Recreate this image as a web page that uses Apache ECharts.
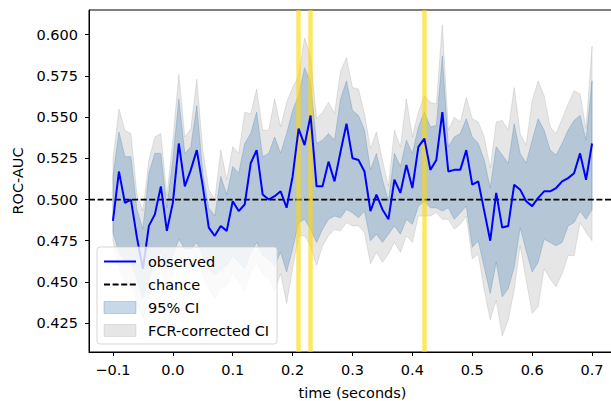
<!DOCTYPE html>
<html>
<head>
<meta charset="utf-8">
<script src="https://cdn.jsdelivr.net/npm/echarts@6/dist/echarts.min.js"></script>
<style>
  html, body { margin: 0; padding: 0; background: #fff; }
  #chart { width: 611px; height: 401px; }
</style>
</head>
<body>
<div id="chart"></div>
<script>
// time points (seconds)
const times = [
  -0.10, -0.09, -0.08, -0.07, -0.06, -0.05, -0.04, -0.03, -0.02, -0.01,
  0.00, 0.01, 0.02, 0.03, 0.04, 0.05, 0.06, 0.07, 0.08, 0.09,
  0.10, 0.11, 0.12, 0.13, 0.14, 0.15, 0.16, 0.17, 0.18, 0.19,
  0.20, 0.21, 0.22, 0.23, 0.24, 0.25, 0.26, 0.27, 0.28, 0.29,
  0.30, 0.31, 0.32, 0.33, 0.34, 0.35, 0.36, 0.37, 0.38, 0.39,
  0.40, 0.41, 0.42, 0.43, 0.44, 0.45, 0.46, 0.47, 0.48, 0.49,
  0.50, 0.51, 0.52, 0.53, 0.54, 0.55, 0.56, 0.57, 0.58, 0.59,
  0.60, 0.61, 0.62, 0.63, 0.64, 0.65, 0.66, 0.67, 0.68, 0.69,
  0.70
];

// observed ROC-AUC
const observed = [
  0.487, 0.517, 0.498, 0.500, 0.477, 0.458, 0.484, 0.491, 0.508, 0.481,
  0.498, 0.534, 0.508, 0.518, 0.530, 0.508, 0.483, 0.478, 0.484, 0.481,
  0.499, 0.493, 0.497, 0.522, 0.530, 0.503, 0.500, 0.502, 0.505, 0.495,
  0.514, 0.543, 0.533, 0.551, 0.508, 0.508, 0.523, 0.511, 0.529, 0.546,
  0.525, 0.524, 0.517, 0.493, 0.503, 0.494, 0.488, 0.512, 0.504, 0.521,
  0.507, 0.532, 0.537, 0.518, 0.524, 0.553, 0.517, 0.518, 0.518, 0.530,
  0.509, 0.511, 0.493, 0.475, 0.504, 0.483, 0.484, 0.509, 0.506, 0.499,
  0.496, 0.501, 0.505, 0.505, 0.507, 0.511, 0.513, 0.516, 0.528, 0.512,
  0.534
];

// 95% CI
const ci95Upper = [
  0.514, 0.541, 0.526, 0.526, 0.494, 0.482, 0.516, 0.528, 0.528, 0.495,
  0.524, 0.561, 0.528, 0.532, 0.557, 0.516, 0.495, 0.490, 0.514, 0.503,
  0.520, 0.516, 0.534, 0.540, 0.553, 0.526, 0.528, 0.538, 0.528, 0.540,
  0.554, 0.563, 0.580, 0.571, 0.534, 0.536, 0.540, 0.536, 0.561, 0.572,
  0.554, 0.551, 0.542, 0.518, 0.528, 0.512, 0.499, 0.528, 0.520, 0.536,
  0.528, 0.544, 0.553, 0.544, 0.545, 0.587, 0.532, 0.538, 0.540, 0.549,
  0.538, 0.534, 0.524, 0.507, 0.532, 0.527, 0.522, 0.546, 0.528, 0.522,
  0.536, 0.549, 0.542, 0.530, 0.527, 0.534, 0.542, 0.548, 0.551, 0.536,
  0.572
];
const ci95Lower = [
  0.480, 0.468, 0.463, 0.462, 0.452, 0.440, 0.452, 0.462, 0.468, 0.458,
  0.466, 0.476, 0.470, 0.470, 0.474, 0.466, 0.458, 0.454, 0.458, 0.460,
  0.466, 0.462, 0.458, 0.468, 0.474, 0.466, 0.464, 0.460, 0.468, 0.456,
  0.470, 0.486, 0.488, 0.482, 0.474, 0.482, 0.488, 0.490, 0.489, 0.494,
  0.492, 0.489, 0.493, 0.475, 0.479, 0.474, 0.479, 0.484, 0.479, 0.488,
  0.485, 0.496, 0.499, 0.495, 0.495, 0.493, 0.495, 0.488, 0.492, 0.496,
  0.471, 0.475, 0.459, 0.443, 0.462, 0.441, 0.446, 0.459, 0.483, 0.469,
  0.456, 0.462, 0.476, 0.474, 0.472, 0.474, 0.484, 0.486, 0.493, 0.488,
  0.494
];

// FCR-corrected CI
const fcrUpper = [
  0.524, 0.555, 0.542, 0.540, 0.503, 0.493, 0.524, 0.538, 0.540, 0.502,
  0.536, 0.576, 0.538, 0.543, 0.573, 0.530, 0.506, 0.500, 0.530, 0.512,
  0.532, 0.528, 0.553, 0.552, 0.567, 0.542, 0.542, 0.561, 0.544, 0.559,
  0.568, 0.575, 0.598, 0.587, 0.549, 0.553, 0.559, 0.552, 0.578, 0.586,
  0.568, 0.567, 0.552, 0.531, 0.541, 0.524, 0.508, 0.542, 0.532, 0.561,
  0.538, 0.553, 0.563, 0.559, 0.558, 0.606, 0.542, 0.550, 0.547, 0.562,
  0.549, 0.547, 0.538, 0.519, 0.547, 0.548, 0.542, 0.568, 0.540, 0.533,
  0.560, 0.572, 0.563, 0.544, 0.540, 0.549, 0.558, 0.566, 0.564, 0.543,
  0.593
];
const fcrLower = [
  0.475, 0.458, 0.450, 0.448, 0.438, 0.428, 0.440, 0.450, 0.458, 0.445,
  0.455, 0.468, 0.460, 0.460, 0.466, 0.455, 0.446, 0.440, 0.446, 0.448,
  0.455, 0.450, 0.444, 0.456, 0.462, 0.455, 0.452, 0.445, 0.455, 0.437,
  0.458, 0.478, 0.478, 0.472, 0.460, 0.472, 0.478, 0.482, 0.481, 0.486,
  0.484, 0.484, 0.480, 0.461, 0.468, 0.462, 0.467, 0.474, 0.468, 0.478,
  0.474, 0.490, 0.490, 0.490, 0.492, 0.488, 0.488, 0.482, 0.485, 0.490,
  0.464, 0.467, 0.445, 0.427, 0.439, 0.417, 0.427, 0.445, 0.472, 0.451,
  0.431, 0.435, 0.458, 0.452, 0.447, 0.455, 0.466, 0.466, 0.486, 0.480,
  0.475
];

// significant time points (yellow markers)
const sigTimes = [0.21, 0.23, 0.42];

const chanceLevel = 0.5;
const xTicks = [-0.1, 0.0, 0.1, 0.2, 0.3, 0.4, 0.5, 0.6, 0.7];
const yTicks = [0.425, 0.450, 0.475, 0.500, 0.525, 0.550, 0.575, 0.600];
const X_MIN = -0.14, X_MAX = 0.74;
const Y_MIN = 0.4075, Y_MAX = 0.615;

const FONT = "DejaVu Sans";
const BLUE_FILL = "rgba(70, 130, 180, 0.3)";
const GRAY_FILL = "rgba(128, 128, 128, 0.2)";
const NO_SYMBOL = { color: "rgba(0, 0, 0, 0)", borderColor: "rgba(0, 0, 0, 0)", borderWidth: 0 };

// polygon between lower and upper bound, drawn through the axes
function bandSeries(name, lower, upper, color, z) {
  return {
    name,
    type: "custom",
    z,
    silent: true,
    data: [[times[0], lower[0]]],
    itemStyle: { color },
    renderItem: (params, api) => {
      const pts = times.map((t, i) => api.coord([t, upper[i]]));
      for (let i = times.length - 1; i >= 0; i--) {
        pts.push(api.coord([times[i], lower[i]]));
      }
      return {
        type: "polygon",
        shape: { points: pts },
        style: { fill: color, stroke: color, lineWidth: 1 },
      };
    },
  };
}

const chart = echarts.init(document.getElementById("chart"), null, { renderer: "svg" });

const option = {
  animation: false,
  backgroundColor: "#ffffff",
  grid: {
    left: 89,
    top: 10,
    width: 527,
    height: 342,
    outerBoundsMode: "none",
    containLabel: false,
    show: true,
    borderColor: "#000",
    borderWidth: 1,
    backgroundColor: "transparent",
  },
  legend: {
    orient: "vertical",
    left: 97,
    top: 247,
    z: 20,
    padding: [7, 8, 6, 6],
    itemGap: 8,
    itemWidth: 32,
    itemHeight: 12,
    backgroundColor: "rgba(255, 255, 255, 0.8)",
    borderColor: "rgba(204, 204, 204, 0.8)",
    borderWidth: 1,
    borderRadius: 3,
    selectedMode: false,
    textStyle: {
      fontFamily: FONT,
      fontSize: 14.5,
      color: "#000",
      padding: [0, 0, 0, 7],
    },
    data: [
      { name: "observed", itemStyle: NO_SYMBOL },
      { name: "chance", itemStyle: NO_SYMBOL },
      { name: "95% CI", icon: "rect", itemStyle: { color: BLUE_FILL, borderColor: BLUE_FILL, borderWidth: 1 } },
      { name: "FCR-corrected CI", icon: "rect", itemStyle: { color: GRAY_FILL, borderColor: GRAY_FILL, borderWidth: 1 } },
    ],
  },
  xAxis: {
    type: "value",
    min: X_MIN,
    max: X_MAX,
    name: "time (seconds)",
    nameLocation: "middle",
    nameGap: 33,
    nameTextStyle: { fontFamily: FONT, fontSize: 14.5, color: "#000" },
    axisLine: { show: true, onZero: false, lineStyle: { color: "#000", width: 1 } },
    axisTick: {
      show: true,
      inside: false,
      length: 4,
      customValues: xTicks,
      lineStyle: { color: "#000", width: 1 },
    },
    axisLabel: {
      customValues: xTicks,
      margin: 10,
      fontFamily: FONT,
      fontSize: 14.5,
      color: "#000",
      formatter: (v) => (v < 0 ? "\u2212" + Math.abs(v).toFixed(1) : v.toFixed(1)),
    },
    splitLine: { show: false },
  },
  yAxis: {
    type: "value",
    min: Y_MIN,
    max: Y_MAX,
    name: "ROC-AUC",
    nameLocation: "middle",
    nameGap: 54,
    nameTextStyle: { fontFamily: FONT, fontSize: 14.5, color: "#000" },
    axisLine: { show: true, onZero: false, lineStyle: { color: "#000", width: 1 } },
    axisTick: {
      show: true,
      inside: false,
      length: 4,
      customValues: yTicks,
      lineStyle: { color: "#000", width: 1 },
    },
    axisLabel: {
      customValues: yTicks,
      margin: 11,
      fontFamily: FONT,
      fontSize: 14.5,
      color: "#000",
      formatter: (v) => v.toFixed(3),
    },
    splitLine: { show: false },
  },
  series: [
    bandSeries("FCR-corrected CI", fcrLower, fcrUpper, GRAY_FILL, 1),
    bandSeries("95% CI", ci95Lower, ci95Upper, BLUE_FILL, 2),
    {
      name: "significant",
      type: "line",
      z: 3,
      data: [],
      markLine: {
        silent: true,
        symbol: "none",
        label: { show: false },
        lineStyle: { color: "rgba(255, 215, 0, 0.6)", width: 4.5, type: "solid" },
        data: sigTimes.map((t) => ({ xAxis: t })),
      },
    },
    {
      name: "chance",
      type: "line",
      z: 4,
      symbol: "none",
      silent: true,
      data: [[X_MIN, chanceLevel], [X_MAX, chanceLevel]],
      lineStyle: { color: "#000", width: 1.8, type: [6, 2.6] },
      itemStyle: { color: "#000" },
    },
    {
      name: "observed",
      type: "line",
      z: 5,
      symbol: "none",
      silent: true,
      data: times.map((t, i) => [t, observed[i]]),
      lineStyle: { color: "#0000ff", width: 2 },
      itemStyle: { color: "#0000ff" },
    },
  ],
};

chart.setOption(option);
</script>
</body>
</html>
